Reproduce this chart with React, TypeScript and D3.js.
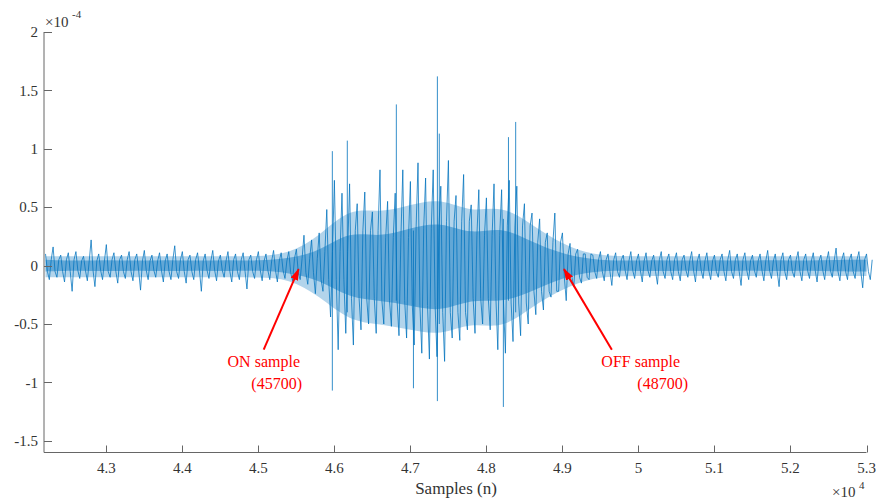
import React from 'react';
import * as d3 from 'd3';

// signal envelope, one value per 100-sample bin (x 1e-4)
const binStart = 42200;
const binStep = 100;
const upper = [
  0.10, 0.16, 0.09, 0.11, 0.12, 0.08, 0.22, 0.10, 0.18, 0.11,
  0.09, 0.12, 0.10, 0.13, 0.09, 0.11, 0.10, 0.17, 0.12, 0.09,
  0.11, 0.10, 0.13, 0.09, 0.12, 0.10, 0.11, 0.09, 0.12, 0.10,
  0.13, 0.11, 0.12, 0.14, 0.26, 0.22, 0.28, 0.48, 0.73, 0.62,
  0.70, 0.53, 0.63, 0.46, 0.82, 0.55, 0.62, 0.82, 0.72, 0.88,
  0.75, 0.82, 0.68, 0.90, 0.60, 0.78, 0.52, 0.65, 0.58, 0.70,
  0.65, 0.73, 0.68, 0.53, 0.45, 0.40, 0.28, 0.45, 0.28, 0.19,
  0.14, 0.10, 0.09, 0.12, 0.10, 0.11, 0.09, 0.12, 0.10, 0.11,
  0.09, 0.12, 0.10, 0.11, 0.09, 0.12, 0.10, 0.11, 0.09, 0.10,
  0.13, 0.10, 0.11, 0.09, 0.10, 0.13, 0.10, 0.11, 0.09, 0.12,
  0.10, 0.11, 0.09, 0.12, 0.15, 0.11, 0.10, 0.12, 0.10,
];
const lower = [
  -0.12, -0.10, -0.14, -0.22, -0.11, -0.13, -0.18, -0.12, -0.10, -0.15,
  -0.11, -0.13, -0.21, -0.12, -0.10, -0.14, -0.12, -0.11, -0.15, -0.12,
  -0.22, -0.11, -0.13, -0.10, -0.14, -0.12, -0.20, -0.11, -0.13, -0.12,
  -0.14, -0.11, -0.13, -0.12, -0.16, -0.24, -0.22, -0.44, -0.72, -0.58,
  -0.68, -0.55, -0.50, -0.58, -0.50, -0.52, -0.60, -0.62, -0.68, -0.75,
  -0.80, -0.78, -0.82, -0.62, -0.64, -0.55, -0.58, -0.50, -0.55, -0.72,
  -0.75, -0.65, -0.60, -0.50, -0.42, -0.38, -0.27, -0.22, -0.30, -0.18,
  -0.15, -0.12, -0.11, -0.13, -0.17, -0.10, -0.12, -0.11, -0.14, -0.10,
  -0.16, -0.11, -0.12, -0.13, -0.10, -0.14, -0.11, -0.12, -0.10, -0.13,
  -0.11, -0.17, -0.12, -0.10, -0.13, -0.11, -0.18, -0.12, -0.10, -0.13,
  -0.11, -0.14, -0.12, -0.10, -0.13, -0.12, -0.11, -0.19, -0.12,
];

// bands of the trace, every 400 samples: dark core and the well-covered zone
const coreStep = 400;
const coreHi = [
  0.05, 0.04, 0.05, 0.04, 0.05, 0.04, 0.05, 0.04, 0.06, 0.12,
  0.30, 0.24, 0.32, 0.38, 0.26, 0.34, 0.20, 0.10, 0.05, 0.04,
  0.05, 0.04, 0.05, 0.04, 0.05, 0.04, 0.05, 0.05,
];
const coreLo = [
  -0.05, -0.04, -0.05, -0.04, -0.05, -0.04, -0.05, -0.04, -0.06, -0.12,
  -0.28, -0.30, -0.34, -0.40, -0.28, -0.32, -0.22, -0.10, -0.05, -0.04,
  -0.05, -0.04, -0.05, -0.04, -0.05, -0.04, -0.05, -0.05,
];
const midHi = [
  0.08, 0.08, 0.08, 0.08, 0.08, 0.08, 0.08, 0.08, 0.10, 0.25,
  0.50, 0.45, 0.52, 0.58, 0.45, 0.52, 0.35, 0.18, 0.09, 0.08,
  0.08, 0.08, 0.08, 0.08, 0.08, 0.08, 0.08, 0.08,
];
const midLo = [
  -0.10, -0.10, -0.10, -0.10, -0.10, -0.10, -0.10, -0.10, -0.11, -0.26,
  -0.48, -0.50, -0.55, -0.60, -0.48, -0.55, -0.35, -0.20, -0.10, -0.09,
  -0.09, -0.09, -0.09, -0.09, -0.09, -0.09, -0.09, -0.09,
];

// single-sample spikes
const spikeN = [45973, 46170, 46815, 47040, 47355, 47380, 48223, 48290, 48385];
const spikeHi = [0.98, 1.07, 1.38, 0.30, 1.62, 1.13, 0.40, 1.10, 1.23];
const spikeLo = [-1.07, -0.40, -0.30, -1.05, -1.16, -0.50, -1.21, -0.30, -0.40];

const xTicks = [43000, 44000, 45000, 46000, 47000, 48000, 49000, 50000, 51000, 52000, 53000];
const yTicks = [-1.5, -1, -0.5, 0, 0.5, 1, 1.5, 2];

const notes = [
  { lines: ['ON sample', '(45700)'], tip: [45530, -0.03], tail: [45070, -0.72], tx: [300, 302] },
  { lines: ['OFF sample', '(48700)'], tip: [49020, -0.03], tail: [49650, -0.72], tx: [680, 688] },
];

const W = 876;
const H = 500;
const FONT = '"Liberation Serif", "Times New Roman", serif';
const BLUE = '#0072BD';

export default function App() {
  const x = d3.scaleLinear().domain([42180, 53000]).range([44, 866.5]);
  const y = d3.scaleLinear().domain([-1.6, 2]).range([452.5, 32]);

  // each bin: peak, core low, trough, core high
  const pts: [number, number][] = [];
  upper.forEach((u, i) => {
    const n = binStart + i * binStep;
    const k = Math.floor((i * binStep) / coreStep);
    pts.push([n, u]);
    pts.push([n + binStep * 0.25, coreLo[k]]);
    pts.push([n + binStep * 0.5, lower[i]]);
    pts.push([n + binStep * 0.75, coreHi[k]]);
  });
  const line = d3.line<[number, number]>().x(d => x(d[0])).y(d => y(d[1]));

  const band = (lo: number[]) => d3.area<number>()
    .x((_, i) => x(binStart + i * coreStep))
    .y0((_, i) => y(lo[i]))
    .y1(d => y(d))
    .curve(d3.curveBasis);

  const fmt = (v: number) => String(v);
  const txt = { fontFamily: FONT };

  return (
    <svg width={W} height={H} style={{ position: 'absolute', left: 0, top: 0, background: '#fff' }}>
      <defs>
        <marker id="arr" viewBox="0 0 12 8" refX="11" refY="4" markerWidth="6" markerHeight="4" orient="auto">
          <path d="M0,0 L12,4 L0,8 z" fill="#ff0000" />
        </marker>
      </defs>

      {/* signal */}
      <path d={band(midLo)(midHi) || ''} fill={BLUE} opacity={0.3} />
      <path d={band(coreLo)(coreHi) || ''} fill={BLUE} opacity={0.45} />
      <path d={line(pts) || ''} fill="none" stroke={BLUE} strokeWidth={0.9} strokeOpacity={0.85} />
      {spikeN.map((n, i) => (
        <line key={n} x1={x(n)} x2={x(n)} y1={y(spikeHi[i])} y2={y(spikeLo[i])} stroke={BLUE} strokeWidth={0.8} />
      ))}

      {/* axes */}
      <line x1={44} x2={44} y1={32} y2={452.5} stroke="#666" strokeWidth={1} />
      <line x1={44} x2={866.5} y1={452.5} y2={452.5} stroke="#666" strokeWidth={1} />
      {yTicks.map(t => (
        <g key={t}>
          <line x1={44} x2={52} y1={Math.round(y(t)) + 0.5} y2={Math.round(y(t)) + 0.5} stroke="#666" />
          <text x={38} y={y(t)} dy="0.35em" textAnchor="end" style={txt} fontSize={15} fill="#333">{fmt(t)}</text>
        </g>
      ))}
      {xTicks.map(t => (
        <g key={t}>
          <line x1={Math.round(x(t)) + 0.5} x2={Math.round(x(t)) + 0.5} y1={452.5} y2={445.5} stroke="#666" />
          <text x={x(t)} y={473} textAnchor="middle" style={txt} fontSize={15} fill="#333">{fmt(t / 10000)}</text>
        </g>
      ))}

      {/* exponents */}
      <text x={45} y={27} style={txt} fontSize={15} fill="#333">×10</text>
      <text x={72} y={18} style={txt} fontSize={11} fill="#333">-4</text>
      <text x={832} y={497} style={txt} fontSize={15} fill="#333">×10</text>
      <text x={859} y={489} style={txt} fontSize={11} fill="#333">4</text>

      <text x={456} y={494} textAnchor="middle" style={txt} fontSize={17} fill="#333">Samples (n)</text>

      {/* annotations */}
      {notes.map(a => (
        <g key={a.lines[0]}>
          <line x1={x(a.tail[0])} y1={y(a.tail[1])} x2={x(a.tip[0])} y2={y(a.tip[1])}
            stroke="#ff0000" strokeWidth={2} markerEnd="url(#arr)" />
          <text x={a.tx[0]} y={367} textAnchor="end" style={txt} fontSize={16} fill="#ff0000">{a.lines[0]}</text>
          <text x={a.tx[1]} y={389} textAnchor="end" style={txt} fontSize={16} fill="#ff0000">{a.lines[1]}</text>
        </g>
      ))}
    </svg>
  );
}
